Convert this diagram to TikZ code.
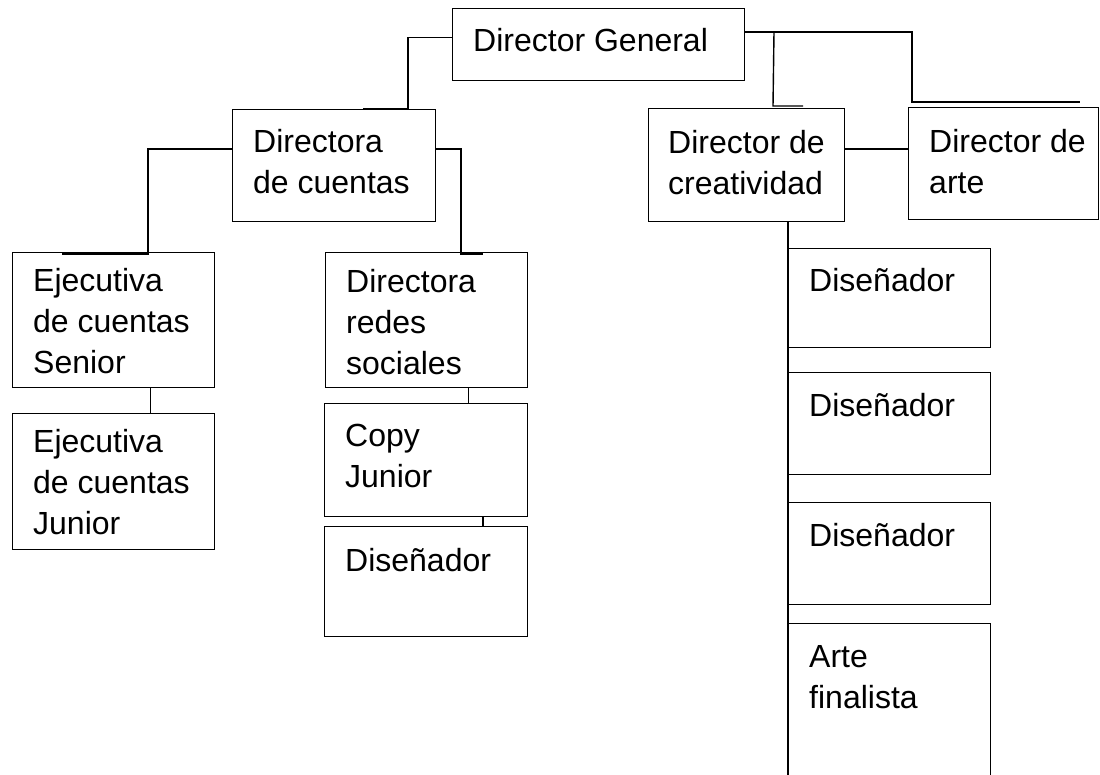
\documentclass[tikz,border=0pt]{standalone}
\usepackage{fontspec}
\setmainfont{Liberation Sans}
\usetikzlibrary{calc}

\begin{document}
\begin{tikzpicture}[x=1pt, y=-1pt,
    box/.style={draw, line width=1pt, inner sep=0pt, anchor=north west},
    lbl/.style={inner sep=0pt, anchor=base west, align=left,
      font=\fontsize{32}{41}\selectfont},
    conn/.style={line width=1.4pt}]

  \useasboundingbox (0,0) rectangle (1100,774);
  \clip (0,0) rectangle (1100,774);

  % top
  \node[box, minimum width=292, minimum height=72](dg) at (452,8) {};
  \node[lbl](dg-t) at ([shift={(21,43)}]dg.north west) {Director General};

  % cuentas
  \node[box, minimum width=203, minimum height=112](dc) at (232,109) {};
  \node[lbl](dc-t) at ([shift={(21,84)}]dc.north west) {Directora\\de cuentas};

  \node[box, minimum width=202, minimum height=135](ejs) at (12,252) {};
  \node[lbl](ejs-t) at ([shift={(21,121)}]ejs.north west) {Ejecutiva\\de cuentas\\Senior};
  \node[box, minimum width=202, minimum height=136](ejj) at (12,413) {};
  \node[lbl](ejj-t) at ([shift={(21,121)}]ejj.north west) {Ejecutiva\\de cuentas\\Junior};

  \node[box, minimum width=202, minimum height=135](drs) at (325,252) {};
  \node[lbl](drs-t) at ([shift={(21,122)}]drs.north west) {Directora\\redes\\sociales};
  \node[box, minimum width=203, minimum height=113](cpj) at (324,403) {};
  \node[lbl](cpj-t) at ([shift={(21,84)}]cpj.north west) {Copy\\Junior};
  \node[box, minimum width=203, minimum height=110](dsm) at (324,526) {};
  \node[lbl](dsm-t) at ([shift={(21,45)}]dsm.north west) {Diseñador};

  % creatividad y arte
  \node[box, minimum width=196, minimum height=113](crea) at (648,108) {};
  \node[lbl](crea-t) at ([shift={(20,86)}]crea.north west) {Director de\\creatividad};
  \node[box, minimum width=190, minimum height=112](arte) at (908,107) {};
  \node[lbl](arte-t) at ([shift={(21,86)}]arte.north west) {Director de\\arte};

  \node[box, minimum width=202, minimum height=99](d1) at (788,248) {};
  \node[lbl](d1-t) at ([shift={(21,43)}]d1.north west) {Diseñador};
  \node[box, minimum width=202, minimum height=102](d2) at (788,372) {};
  \node[lbl](d2-t) at ([shift={(21,44)}]d2.north west) {Diseñador};
  \node[box, minimum width=202, minimum height=102](d3) at (788,502) {};
  \node[lbl](d3-t) at ([shift={(21,44)}]d3.north west) {Diseñador};
  \node[box, minimum width=202, minimum height=180](d4) at (788,623) {};
  \node[lbl](d4-t) at ([shift={(21,85)}]d4.north west) {Arte\\finalista};
  \coordinate (fin) at (788,790);

  % connectors
  \draw[conn] ([yshift=7pt]dg.west) -| ([xshift=176pt]dc.north west) -- ([xshift=131pt]dc.north west);
  \draw[conn] ([yshift=-40pt]dc.north west) -| ([xshift=136pt,yshift=-2pt]ejs.north west) -- ([xshift=50pt,yshift=-2pt]ejs.north west);
  \draw[conn] ([yshift=-40pt]dc.north east) -| ([xshift=136pt,yshift=-2pt]drs.north west) -- ([xshift=158pt,yshift=-2pt]drs.north west);
  \draw[conn] ([xshift=37pt]ejs.south) -- ([xshift=37pt]ejs.south |- ejj.north);
  \draw[conn] ([xshift=42pt]drs.south) -- ([xshift=42pt]drs.south |- cpj.north);
  \draw[conn] ([xshift=57pt]cpj.south) -- ([xshift=57pt]cpj.south |- dsm.north);

  \draw[conn] ([yshift=-24pt]dg.north east) -| ([xshift=4pt,yshift=5pt]arte.north west) -- ([xshift=172pt,yshift=5pt]arte.north west);
  \draw[conn] ([xshift=29pt,yshift=-24pt]dg.north east) -- ([xshift=125pt,yshift=2pt]crea.north west) -- ([xshift=155pt,yshift=2pt]crea.north west);
  \draw[conn] ([yshift=-41pt]crea.north east) -- ([yshift=-41pt]crea.north east -| arte.west);
  \draw[conn] (crea.south -| d1.west) -- (fin);

\end{tikzpicture}
\end{document}
